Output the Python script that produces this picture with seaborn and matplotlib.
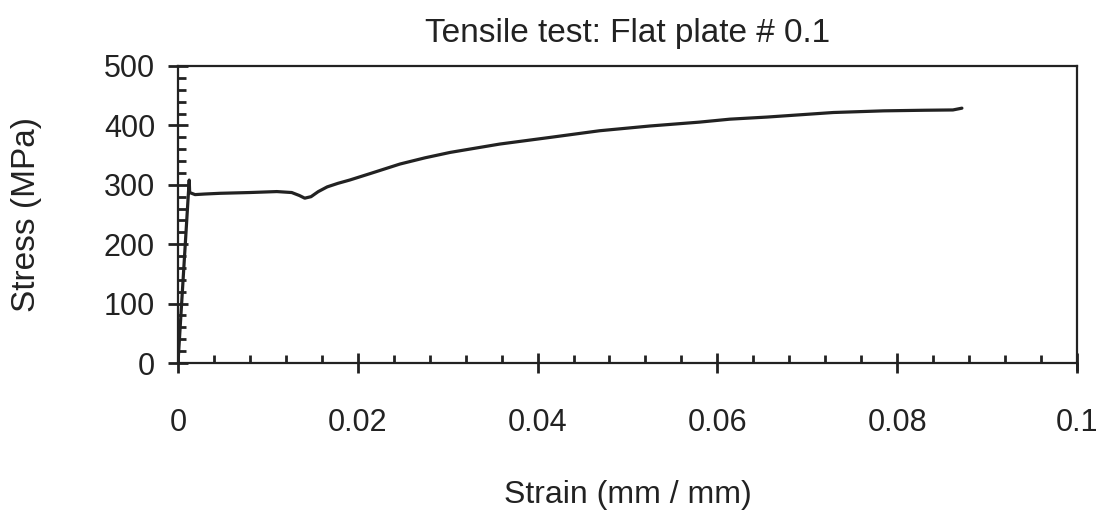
import matplotlib
matplotlib.use("Agg")
import matplotlib.pyplot as plt
from matplotlib.ticker import MultipleLocator
import seaborn as sns
import pandas as pd

# Stress-strain record of the flat plate specimen
strain = [0.0, 0.00125, 0.0013, 0.0019, 0.0030, 0.0047, 0.0080, 0.0110,
          0.01265, 0.0135, 0.0141, 0.0148, 0.0156, 0.0166, 0.0178, 0.0191,
          0.0214, 0.0247, 0.0275, 0.0303, 0.0358, 0.0414, 0.0469, 0.0525,
          0.0580, 0.0614, 0.0655, 0.0729, 0.0785, 0.0830, 0.0862, 0.0872]
stress = [0.0, 308.0, 287.0, 283.5, 284.5, 285.7, 287.0, 288.6,
          287.0, 282.0, 277.5, 280.0, 288.5, 296.5, 302.5, 308.0,
          319.0, 335.0, 345.5, 354.6, 368.6, 379.8, 391.0, 399.0,
          405.5, 410.5, 414.0, 421.7, 424.5, 425.5, 426.0, 429.0]

x_ticks = [0, 0.02, 0.04, 0.06, 0.08, 0.1]
x_tick_labels = ["0", "0.02", "0.04", "0.06", "0.08", "0.1"]
y_ticks = [0, 100, 200, 300, 400, 500]

df = pd.DataFrame({"strain": strain, "stress": stress})

sns.set_theme(style="white")
plt.rcParams["font.family"] = ["Liberation Sans", "DejaVu Sans"]

fig = plt.figure(figsize=(11.02, 5.18), dpi=100)
ax = fig.add_axes([0.1615, 0.2992, 0.8158, 0.5734])

sns.lineplot(data=df, x="strain", y="stress", sort=False, color="#222222",
             linewidth=2.3, ax=ax, estimator=None)

ax.set_xlim(0, 0.1)
ax.set_ylim(0, 500)

ax.set_xticks(x_ticks)
ax.set_xticklabels(x_tick_labels)
ax.set_yticks(y_ticks)
ax.xaxis.set_minor_locator(MultipleLocator(0.004))
ax.yaxis.set_minor_locator(MultipleLocator(20))

for side in ["left", "bottom", "right", "top"]:
    ax.spines[side].set_visible(True)
    ax.spines[side].set_color("#222222")
    ax.spines[side].set_linewidth(1.6)

ax.tick_params(axis="x", which="major", direction="inout", length=15,
               width=2.0, color="#222222", labelsize=22, pad=25,
               labelcolor="#222222")
ax.tick_params(axis="x", which="minor", direction="in", length=6,
               width=2.0, color="#222222")
ax.tick_params(axis="y", which="major", direction="inout", length=15,
               width=2.0, color="#222222", labelsize=22, pad=9,
               labelcolor="#222222")
ax.tick_params(axis="y", which="minor", direction="in", length=6,
               width=2.0, color="#222222")
ax.tick_params(top=False, right=False, which="both")
ax.xaxis.set_ticks_position("bottom")
ax.yaxis.set_ticks_position("left")

# Lone tick at the right end of the strain axis
ax.plot([0.1, 0.1], [0, -12], color="#222222", lw=2.0, clip_on=False)

ax.set_title("Tensile test: Flat plate # 0.1", fontsize=24, pad=17,
             color="#222222")
ax.set_xlabel("Strain (mm / mm)", fontsize=23, color="#222222")
ax.set_ylabel("Stress (MPa)", fontsize=24, color="#222222")
ax.xaxis.set_label_coords(0.5, -0.395)
ax.yaxis.set_label_coords(-0.151, 0.5)

fig.savefig("out.png", dpi=100, facecolor="white")
